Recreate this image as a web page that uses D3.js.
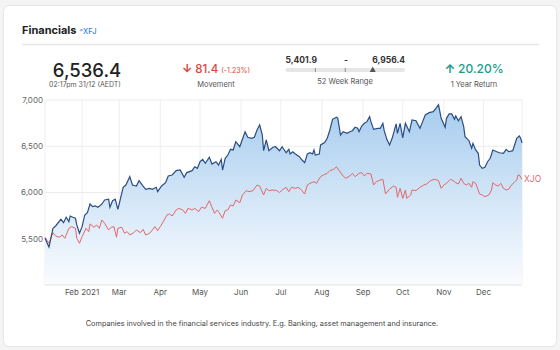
<!DOCTYPE html>
<html>
<head>
<meta charset="utf-8">
<script src="https://cdn.jsdelivr.net/npm/d3@7"></script>
<style>
  html, body { margin: 0; padding: 0; background: #f4f4f4; }
  svg { display: block; font-family: Inter, "Noto Sans", sans-serif; }
</style>
</head>
<body>
<svg id="chart" width="560" height="350"></svg>
<script>
// ---------- DATA ----------
const title = "Financials";
const ticker = "^XFJ";
const lastPrice = "6,536.4";
const lastTime = "02:17pm 31/12 (AEDT)";
const movement = "81.4";
const movementPct = "(-1.23%)";
const weekLow = "5,401.9";
const weekHigh = "6,956.4";
const yearReturn = "20.20%";
const footerText = "Companies involved in the financial services industry. E.g. Banking, asset management and insurance.";
const compareLabel = "XJO";

const yTicks = [5500, 6000, 6500, 7000];
const xTickDates = ["2021-02-01","2021-03-01","2021-04-01","2021-05-01","2021-06-01","2021-07-01","2021-08-01","2021-09-01","2021-10-01","2021-11-01","2021-12-01"];
const xTickLabels = ["Feb 2021","Mar","Apr","May","Jun","Jul","Aug","Sep","Oct","Nov","Dec"];
const xDomain = ["2021-01-04","2021-12-30"];
const yDomain = [5000, 7000];

// XFJ (blue)
const xfjDates = ["2021-01-04","2021-01-07","2021-01-10","2021-01-12","2021-01-16","2021-01-18","2021-01-20","2021-01-22","2021-01-23","2021-01-25","2021-01-27","2021-01-28","2021-01-30",
"2021-02-01","2021-02-03","2021-02-05","2021-02-07","2021-02-09","2021-02-11","2021-02-13","2021-02-16","2021-02-18","2021-02-21","2021-02-22","2021-02-24","2021-02-26","2021-02-28",
"2021-03-02","2021-03-04","2021-03-06","2021-03-09","2021-03-11","2021-03-14","2021-03-16","2021-03-19","2021-03-21","2021-03-24","2021-03-26","2021-03-29","2021-03-30",
"2021-04-02","2021-04-05","2021-04-07","2021-04-10","2021-04-13","2021-04-16","2021-04-19","2021-04-21","2021-04-25","2021-04-27","2021-04-29",
"2021-05-01","2021-05-03","2021-05-05","2021-05-08","2021-05-10","2021-05-13","2021-05-15","2021-05-17","2021-05-18","2021-05-20","2021-05-22","2021-05-24","2021-05-26","2021-05-28","2021-05-31",
"2021-06-02","2021-06-04","2021-06-06","2021-06-09","2021-06-11","2021-06-13","2021-06-15","2021-06-17","2021-06-18","2021-06-20","2021-06-22","2021-06-25","2021-06-27","2021-06-30",
"2021-07-02","2021-07-05","2021-07-07","2021-07-08","2021-07-10","2021-07-12","2021-07-15","2021-07-17","2021-07-19","2021-07-21","2021-07-23","2021-07-25","2021-07-26","2021-07-27","2021-07-30","2021-07-31",
"2021-08-03","2021-08-05","2021-08-07","2021-08-09","2021-08-12","2021-08-13","2021-08-15","2021-08-17","2021-08-20","2021-08-22","2021-08-24","2021-08-26","2021-08-28","2021-08-29","2021-08-31",
"2021-09-02","2021-09-04","2021-09-06","2021-09-07","2021-09-09","2021-09-12","2021-09-14","2021-09-16","2021-09-17","2021-09-19","2021-09-21","2021-09-23","2021-09-26","2021-09-27","2021-09-29",
"2021-10-01","2021-10-03","2021-10-06","2021-10-08","2021-10-11","2021-10-14","2021-10-16","2021-10-18","2021-10-21","2021-10-24","2021-10-26","2021-10-28","2021-10-30",
"2021-11-02","2021-11-03","2021-11-05","2021-11-07","2021-11-09","2021-11-10","2021-11-12","2021-11-14","2021-11-16","2021-11-17","2021-11-20","2021-11-22","2021-11-23","2021-11-25","2021-11-27","2021-11-28","2021-11-30",
"2021-12-02","2021-12-04","2021-12-06","2021-12-08","2021-12-11","2021-12-13","2021-12-16","2021-12-18","2021-12-20","2021-12-23","2021-12-24","2021-12-26","2021-12-28","2021-12-29","2021-12-30"];
const xfjValues = [5505,5410,5613,5638,5710,5674,5732,5685,5746,5732,5721,5649,5559,
5631,5757,5782,5876,5847,5854,5840,5876,5919,5927,5840,5911,5927,5818,
5937,6056,6081,6171,6081,6070,6128,6070,6035,6045,6035,6056,6009,
6070,6106,6178,6189,6236,6243,6164,6215,6236,6279,6262,
6333,6359,6316,6381,6308,6333,6297,6359,6243,6370,6405,6467,6460,6549,6495,
6575,6657,6597,6586,6597,6676,6730,6622,6452,6568,6452,6489,6495,6452,
6495,6430,6467,6416,6441,6416,6387,6351,6322,6416,6430,6416,6460,6405,6416,6514,
6539,6586,6676,6791,6813,6802,6622,6657,6640,6657,6668,6705,6694,6657,6719,
6748,6766,6820,6766,6683,6694,6694,6748,6668,6575,6514,6586,6741,6640,6748,
6590,6748,6657,6784,6776,6694,6766,6838,6863,6874,6910,6950,6802,
6705,6802,6849,6849,6791,6827,6776,6820,6712,6604,6560,6478,6532,6460,6424,6297,6262,
6272,6333,6370,6460,6441,6430,6424,6467,6441,6452,6495,6586,6611,6586,6536];

// XJO (red, rebased)
const xjoDates = ["2021-01-04","2021-01-07","2021-01-10","2021-01-12","2021-01-15","2021-01-17","2021-01-19","2021-01-22","2021-01-24","2021-01-27","2021-01-28","2021-01-30",
"2021-02-01","2021-02-04","2021-02-06","2021-02-07","2021-02-10","2021-02-12","2021-02-14","2021-02-16","2021-02-18","2021-02-21","2021-02-23","2021-02-25","2021-02-27","2021-02-28",
"2021-03-03","2021-03-05","2021-03-07","2021-03-09","2021-03-12","2021-03-14","2021-03-17","2021-03-19","2021-03-21","2021-03-24","2021-03-28","2021-03-30",
"2021-04-01","2021-04-04","2021-04-06","2021-04-08","2021-04-10","2021-04-13","2021-04-15","2021-04-18","2021-04-20","2021-04-22","2021-04-25","2021-04-27","2021-04-30",
"2021-05-02","2021-05-05","2021-05-08","2021-05-10","2021-05-12","2021-05-14","2021-05-15","2021-05-18","2021-05-20","2021-05-22","2021-05-24","2021-05-26","2021-05-28","2021-05-31",
"2021-06-02","2021-06-05","2021-06-07","2021-06-10","2021-06-13","2021-06-15","2021-06-18","2021-06-20","2021-06-22","2021-06-25","2021-06-28","2021-06-30",
"2021-07-02","2021-07-05","2021-07-07","2021-07-09","2021-07-12","2021-07-14","2021-07-16","2021-07-19","2021-07-21","2021-07-23","2021-07-26","2021-07-28","2021-07-29","2021-07-31",
"2021-08-02","2021-08-05","2021-08-07","2021-08-10","2021-08-12","2021-08-14","2021-08-17","2021-08-19","2021-08-22","2021-08-24","2021-08-26","2021-08-29","2021-08-31",
"2021-09-02","2021-09-04","2021-09-07","2021-09-09","2021-09-11","2021-09-14","2021-09-16","2021-09-18","2021-09-21","2021-09-24","2021-09-26","2021-09-27","2021-09-29",
"2021-10-01","2021-10-03","2021-10-04","2021-10-07","2021-10-08","2021-10-11","2021-10-14","2021-10-17","2021-10-19","2021-10-22","2021-10-25","2021-10-27","2021-10-28","2021-10-30",
"2021-11-01","2021-11-03","2021-11-06","2021-11-08","2021-11-10","2021-11-12","2021-11-14","2021-11-16","2021-11-18","2021-11-20","2021-11-22","2021-11-23","2021-11-25","2021-11-28","2021-11-30",
"2021-12-02","2021-12-05","2021-12-07","2021-12-08","2021-12-10","2021-12-12","2021-12-14","2021-12-16","2021-12-18","2021-12-20","2021-12-22","2021-12-24","2021-12-26","2021-12-27","2021-12-28","2021-12-30"];
const xjoValues = [5516,5451,5566,5530,5516,5541,5505,5613,5631,5613,5505,5451,
5523,5613,5577,5660,5624,5649,5613,5703,5667,5595,5624,5631,5516,5613,
5624,5559,5577,5541,5566,5595,5566,5602,5541,5559,5631,5588,
5631,5703,5757,5768,5746,5811,5829,5811,5775,5829,5811,5829,5793,
5840,5829,5911,5840,5775,5811,5793,5721,5804,5811,5865,5854,5919,5890,
5973,6020,6009,6020,6081,6070,5973,6045,6020,6027,6020,5999,
6027,6056,6009,6056,6045,6056,6035,5984,6081,6099,6117,6099,6128,6171,
6189,6207,6236,6251,6279,6236,6178,6154,6178,6207,6171,6207,6215,
6178,6207,6200,6081,6117,6135,6143,5984,6035,6070,6056,5948,6045,
5937,6027,5937,5973,6027,6020,6056,6081,6092,6128,6143,6135,6128,6045,
6081,6099,6143,6128,6106,6092,6154,6099,6081,6099,6056,6117,6099,5984,5973,
5955,5973,6027,6106,6081,6070,6099,6045,6027,6035,6081,6106,6135,6189,6189,6143];

// ---------- DRAW ----------
const svg = d3.select("#chart");
const parse = d3.timeParse("%Y-%m-%d");
const xfj = xfjDates.map((d, i) => ({ date: parse(d), value: xfjValues[i] }));
const xjo = xjoDates.map((d, i) => ({ date: parse(d), value: xjoValues[i] }));

const plot = { left: 45, right: 522, top: 100, bottom: 285 };
const x = d3.scaleTime().domain(xDomain.map(parse)).range([plot.left, plot.right]);
const y = d3.scaleLinear().domain(yDomain).range([plot.bottom, plot.top]);

// card
svg.append("rect").attr("x", 3.5).attr("y", 5.5).attr("width", 553).attr("height", 341)
  .attr("rx", 6).attr("fill", "#fff").attr("stroke", "#e6e6e6");

// header
const titleEl = svg.append("text").attr("x", 22).attr("y", 34).attr("font-size", 11).attr("font-weight", 700)
  .attr("fill", "#222").text(title);
const tw = titleEl.node().getComputedTextLength();
svg.append("text").attr("x", 22 + tw + 3).attr("y", 34).attr("font-size", 7.5).attr("font-weight", 500)
  .attr("fill", "#3b82d6").text(ticker);
svg.append("line").attr("x1", 22).attr("x2", 539).attr("y1", 44.5).attr("y2", 44.5)
  .attr("stroke", "#e8e8e8").attr("stroke-width", 1.5);

// price block
svg.append("text").attr("x", 87).attr("y", 76.5).attr("text-anchor", "middle")
  .attr("font-size", 18.5).attr("font-weight", 500).attr("fill", "#222").text(lastPrice);
svg.append("text").attr("x", 85).attr("y", 86.5).attr("text-anchor", "middle")
  .attr("font-size", 7).attr("fill", "#555").text(lastTime);

// movement block
const mv = svg.append("text").attr("x", 216).attr("y", 73).attr("text-anchor", "middle").attr("fill", "#e0463c");
mv.append("tspan").attr("font-size", 11.5).attr("font-weight", 700).text("↓ ");
mv.append("tspan").attr("font-size", 11.5).attr("font-weight", 500).text(movement + " ");
mv.append("tspan").attr("font-size", 7).text(movementPct);
svg.append("text").attr("x", 216).attr("y", 87).attr("text-anchor", "middle")
  .attr("font-size", 7.5).attr("fill", "#555").text("Movement");

// 52 week range
svg.append("text").attr("x", 285.5).attr("y", 63).attr("font-size", 8.5).attr("font-weight", 700)
  .attr("fill", "#333").text(weekLow);
svg.append("text").attr("x", 346).attr("y", 63).attr("text-anchor", "middle").attr("font-size", 8.5)
  .attr("font-weight", 700).attr("fill", "#333").text("-");
svg.append("text").attr("x", 405).attr("y", 63).attr("text-anchor", "end").attr("font-size", 8.5)
  .attr("font-weight", 700).attr("fill", "#333").text(weekHigh);
const rangeScale = d3.scaleLinear().domain([5401.9, 6956.4]).range([285.5, 405]);
svg.append("rect").attr("x", 285.5).attr("y", 68).attr("width", 119.5).attr("height", 4)
  .attr("rx", 2).attr("fill", "#e6e6e6");
[0.25, 0.5].forEach(f => {
  const tx = 285.5 + 119.5 * f;
  svg.append("line").attr("x1", tx).attr("x2", tx).attr("y1", 68).attr("y2", 72).attr("stroke", "#777").attr("stroke-width", 0.8);
});
const mx = rangeScale(6536.4);
svg.append("path").attr("d", `M${mx - 3},72 L${mx},66.5 L${mx + 3},72 Z`).attr("fill", "#555");
svg.append("text").attr("x", 345).attr("y", 84).attr("text-anchor", "middle")
  .attr("font-size", 7.5).attr("fill", "#555").text("52 Week Range");

// 1 year return
const yr = svg.append("text").attr("x", 474).attr("y", 73).attr("text-anchor", "middle").attr("fill", "#1d9a8a");
yr.append("tspan").attr("font-size", 12).attr("font-weight", 700).text("↑ ");
yr.append("tspan").attr("font-size", 12).attr("font-weight", 500).text(yearReturn);
svg.append("text").attr("x", 474).attr("y", 87).attr("text-anchor", "middle")
  .attr("font-size", 7.5).attr("fill", "#555").text("1 Year Return");

// gradient
const defs = svg.append("defs");
const grad = defs.append("linearGradient").attr("id", "areaGrad")
  .attr("gradientUnits", "userSpaceOnUse").attr("x1", 0).attr("x2", 0)
  .attr("y1", plot.top).attr("y2", plot.bottom);
grad.append("stop").attr("offset", 0).attr("stop-color", "#a4cbee");
grad.append("stop").attr("offset", 0.5).attr("stop-color", "#d0e4f6");
grad.append("stop").attr("offset", 1).attr("stop-color", "#fafcff");

// grid
const g = svg.append("g");
g.selectAll(".vgrid").data(xTickDates).join("line")
  .attr("x1", d => x(parse(d))).attr("x2", d => x(parse(d)))
  .attr("y1", plot.top).attr("y2", plot.bottom).attr("stroke", "#eeeeee").attr("stroke-width", 1);
g.selectAll(".hgrid").data(yTicks).join("line")
  .attr("x1", plot.left).attr("x2", plot.right)
  .attr("y1", d => y(d)).attr("y2", d => y(d)).attr("stroke", "#ececec").attr("stroke-width", 1);
g.append("line").attr("x1", plot.left).attr("x2", plot.left).attr("y1", plot.top).attr("y2", plot.bottom).attr("stroke", "#eeeeee");
g.append("line").attr("x1", plot.right).attr("x2", plot.right).attr("y1", plot.top).attr("y2", plot.bottom).attr("stroke", "#eeeeee");

// area + lines
const area = d3.area().x(d => x(d.date)).y0(plot.bottom).y1(d => y(d.value));
const line = d3.line().x(d => x(d.date)).y(d => y(d.value));
svg.append("path").datum(xfj).attr("d", area).attr("fill", "url(#areaGrad)");
svg.append("line").attr("x1", plot.left).attr("x2", plot.right).attr("y1", plot.bottom).attr("y2", plot.bottom).attr("stroke", "#e3e3e3");
svg.append("path").datum(xjo).attr("d", line).attr("fill", "none").attr("stroke", "#e2686b").attr("stroke-width", 1);
svg.append("path").datum(xfj).attr("d", line).attr("fill", "none").attr("stroke", "#2b4d83").attr("stroke-width", 1.2);

const lastXjo = xjo[xjo.length - 1];
svg.append("text").attr("x", x(lastXjo.date) + 2).attr("y", y(lastXjo.value)).attr("dy", "0.35em")
  .attr("font-size", 8.5).attr("fill", "#e8686b").text(compareLabel);

// axes labels
svg.selectAll(".ylab").data(yTicks).join("text")
  .attr("x", 43).attr("y", d => y(d)).attr("dy", "0.35em").attr("text-anchor", "end")
  .attr("font-size", 8).attr("fill", "#666").text(d => d3.format(",")(d));
svg.selectAll(".xlab").data(xTickDates).join("text")
  .attr("x", d => x(parse(d))).attr("y", 295).attr("text-anchor", "middle")
  .attr("font-size", 8).attr("fill", "#555").text((d, i) => xTickLabels[i]);

// footer
svg.append("text").attr("x", 262).attr("y", 326).attr("text-anchor", "middle")
  .attr("font-size", 7.3).attr("fill", "#444").text(footerText);
</script>
</body>
</html>
